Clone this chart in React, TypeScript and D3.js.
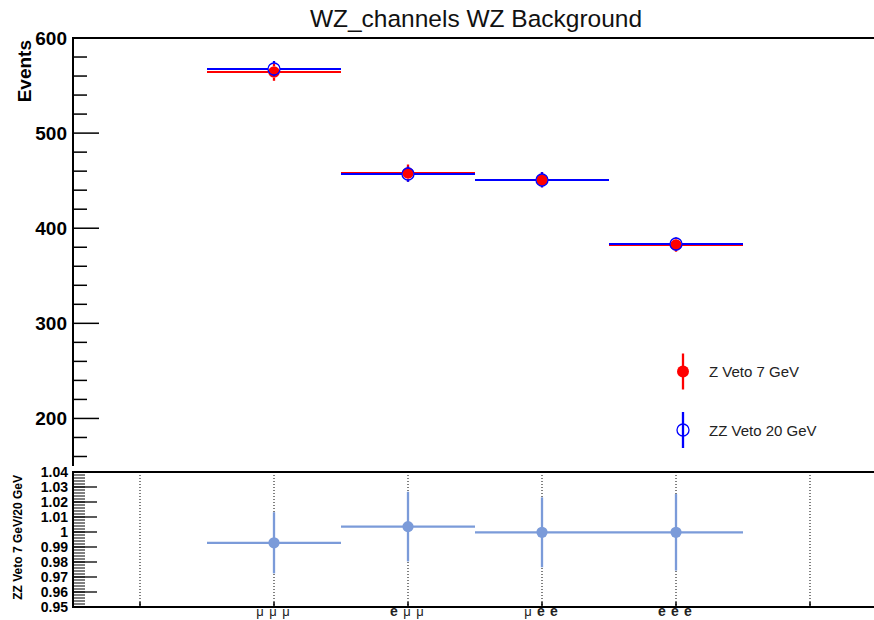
import React, { useEffect, useRef } from "react";
import * as d3 from "d3";

// channel bins (bin centres at 1..4)
const channels = ["μμμ", "eμμ", "μee", "eee"];
const binPos = [1, 2, 3, 4];

// top panel: events per channel
const zVeto7 = [564, 458, 451, 382.3];
const zVeto7Err = [9, 9, 8, 7];
const zzVeto20 = [567.8, 456.8, 451, 383.3];
const zzVeto20Err = [8, 8, 8, 7];

// bottom panel: ratio 7 GeV / 20 GeV
const ratio = [0.9928, 1.0036, 0.9998, 0.9998];
const ratioErr = [0.0204, 0.0232, 0.0233, 0.0255];

const eventTicks = [200, 300, 400, 500, 600];
const ratioTicks = [0.95, 0.96, 0.97, 0.98, 0.99, 1, 1.01, 1.02, 1.03, 1.04];
const gridPos = [0, 1, 2, 3, 4, 5];

const FONT = "'Liberation Sans', Arial, Helvetica, sans-serif";
const RED = "#ff0000";
const BLUE = "#0000ff";
const RATIO_COL = "#7b9bd9";

function App() {
  const svgRef = useRef<SVGSVGElement>(null);

  useEffect(() => {
    const svg = d3.select(svgRef.current);
    svg.selectAll("*").remove();

    const x = d3.scaleLinear().domain([-0.5, 5.5]).range([73, 877]);
    const yTop = d3.scaleLinear().domain([150, 600]).range([466, 38]);
    const yRat = d3.scaleLinear().domain([0.95, 1.04]).range([607, 472]);

    // title
    svg.append("text")
      .attr("x", 476).attr("y", 27)
      .attr("text-anchor", "middle")
      .style("font", `24.5px ${FONT}`)
      .attr("fill", "#111")
      .text("WZ_channels WZ Background");

    // ---------- top panel ----------
    const top = svg.append("g");
    top.append("line")
      .attr("x1", x(-0.5)).attr("x2", x(5.5))
      .attr("y1", yTop(600)).attr("y2", yTop(600))
      .attr("stroke", "#000").attr("stroke-width", 2);
    top.append("line")
      .attr("x1", x(-0.5)).attr("x2", x(-0.5))
      .attr("y1", yTop(600) - 1).attr("y2", yTop(150))
      .attr("stroke", "#000").attr("stroke-width", 2);

    // minor ticks every 20
    top.selectAll(".tminor")
      .data(d3.range(160, 600, 20).filter((v) => v % 100 != 0))
      .join("line")
      .attr("x1", x(-0.5)).attr("x2", x(-0.5) + 14)
      .attr("y1", (d) => yTop(d)).attr("y2", (d) => yTop(d))
      .attr("stroke", "#000").attr("stroke-width", 1.5);
    top.selectAll(".tmajor")
      .data(eventTicks)
      .join("line")
      .attr("x1", x(-0.5)).attr("x2", x(-0.5) + 26)
      .attr("y1", (d) => yTop(d)).attr("y2", (d) => yTop(d))
      .attr("stroke", "#000").attr("stroke-width", 1.5);
    top.selectAll(".tlabel")
      .data(eventTicks)
      .join("text")
      .attr("x", 67).attr("y", (d) => yTop(d) + 7)
      .attr("text-anchor", "end")
      .style("font", `bold 19px ${FONT}`)
      .text((d) => d);

    top.append("text")
      .attr("transform", "translate(31,40) rotate(-90)")
      .attr("text-anchor", "end")
      .style("font", `bold 19px ${FONT}`)
      .text("Events");

    // series: red first, blue over it; error bars stop at the marker edge
    const drawSeries = (vals: number[], errs: number[], col: string, open: boolean) => {
      const g = top.append("g");
      const r = open ? 6 : 5.8;
      binPos.forEach((b, i) => {
        const cy = Math.round(yTop(vals[i]));
        g.append("line")
          .attr("x1", x(b - 0.5)).attr("x2", x(b) - r)
          .attr("y1", cy).attr("y2", cy)
          .attr("stroke", col).attr("stroke-width", 2)
          .attr("shape-rendering", "crispEdges");
        g.append("line")
          .attr("x1", x(b) + r).attr("x2", x(b + 0.5))
          .attr("y1", cy).attr("y2", cy)
          .attr("stroke", col).attr("stroke-width", 2)
          .attr("shape-rendering", "crispEdges");
        g.append("line")
          .attr("x1", x(b)).attr("x2", x(b))
          .attr("y1", yTop(vals[i] + errs[i])).attr("y2", cy - r)
          .attr("stroke", col).attr("stroke-width", 2.3);
        g.append("line")
          .attr("x1", x(b)).attr("x2", x(b))
          .attr("y1", cy + r).attr("y2", yTop(vals[i] - errs[i]))
          .attr("stroke", col).attr("stroke-width", 2.3);
        g.append("circle")
          .attr("cx", x(b)).attr("cy", cy)
          .attr("r", r)
          .attr("fill", open ? "none" : col)
          .attr("stroke", col).attr("stroke-width", open ? 1.3 : 0);
      });
    };
    drawSeries(zVeto7, zVeto7Err, RED, false);
    drawSeries(zzVeto20, zzVeto20Err, BLUE, true);

    // legend
    const legend = [
      { label: "Z Veto 7 GeV", col: RED, open: false, y: 371.5 },
      { label: "ZZ Veto 20 GeV", col: BLUE, open: true, y: 430 },
    ];
    const lg = svg.append("g");
    legend.forEach((l) => {
      lg.append("line")
        .attr("x1", 683).attr("x2", 683)
        .attr("y1", l.y - 18).attr("y2", l.y + 18)
        .attr("stroke", l.col).attr("stroke-width", 2.3);
      lg.append("circle")
        .attr("cx", 683).attr("cy", l.y).attr("r", 6)
        .attr("fill", l.open ? "none" : l.col)
        .attr("stroke", l.col).attr("stroke-width", l.open ? 1.3 : 0);
      lg.append("text")
        .attr("x", 709).attr("y", l.y + 5.5)
        .style("font", `15px ${FONT}`)
        .attr("fill", "#222")
        .text(l.label);
    });

    // ---------- ratio panel ----------
    const bot = svg.append("g");
    bot.selectAll(".grid")
      .data(gridPos)
      .join("line")
      .attr("x1", (d) => x(d)).attr("x2", (d) => x(d))
      .attr("y1", yRat(1.04)).attr("y2", yRat(0.95))
      .attr("stroke", "#000").attr("stroke-width", 1)
      .attr("stroke-dasharray", "1,2");
    bot.selectAll(".xtick")
      .data(gridPos)
      .join("line")
      .attr("x1", (d) => x(d)).attr("x2", (d) => x(d))
      .attr("y1", yRat(0.95)).attr("y2", yRat(0.95) - 5)
      .attr("stroke", "#000").attr("stroke-width", 1.5);

    bot.selectAll(".rminor")
      .data(d3.range(0, 46).map((i) => 0.95 + i * 0.002))
      .join("line")
      .attr("x1", x(-0.5)).attr("x2", x(-0.5) + 12)
      .attr("y1", (d) => yRat(d)).attr("y2", (d) => yRat(d))
      .attr("stroke", "#000").attr("stroke-width", 1);
    bot.selectAll(".rmajor")
      .data(ratioTicks)
      .join("line")
      .attr("x1", x(-0.5)).attr("x2", x(-0.5) + 24)
      .attr("y1", (d) => yRat(d)).attr("y2", (d) => yRat(d))
      .attr("stroke", "#000").attr("stroke-width", 1.3);
    bot.selectAll(".rlabel")
      .data(ratioTicks)
      .join("text")
      .attr("x", 68).attr("y", (d) => Math.max(yRat(d) + 5, 477))
      .attr("text-anchor", "end")
      .style("font", `bold 14px ${FONT}`)
      .text((d) => d3.format("~g")(d));

    bot.append("text")
      .attr("transform", "translate(22,475) rotate(-90)")
      .attr("text-anchor", "end")
      .style("font", `bold 12px ${FONT}`)
      .text("ZZ Veto 7 GeV/20 GeV");

    // frame
    bot.append("line")
      .attr("x1", x(-0.5)).attr("x2", x(5.5))
      .attr("y1", yRat(1.04)).attr("y2", yRat(1.04))
      .attr("stroke", "#000").attr("stroke-width", 2);
    bot.append("line")
      .attr("x1", x(-0.5)).attr("x2", x(5.5))
      .attr("y1", yRat(0.95)).attr("y2", yRat(0.95))
      .attr("stroke", "#000").attr("stroke-width", 2);
    bot.append("line")
      .attr("x1", x(-0.5)).attr("x2", x(-0.5))
      .attr("y1", yRat(1.04) - 1).attr("y2", yRat(0.95) + 1)
      .attr("stroke", "#000").attr("stroke-width", 2);

    binPos.forEach((b, i) => {
      bot.append("line")
        .attr("x1", x(b - 0.5)).attr("x2", x(b + 0.5))
        .attr("y1", yRat(ratio[i])).attr("y2", yRat(ratio[i]))
        .attr("stroke", RATIO_COL).attr("stroke-width", 2.3);
      bot.append("line")
        .attr("x1", x(b)).attr("x2", x(b))
        .attr("y1", yRat(ratio[i] - ratioErr[i])).attr("y2", yRat(ratio[i] + ratioErr[i]))
        .attr("stroke", RATIO_COL).attr("stroke-width", 2.3);
      bot.append("circle")
        .attr("cx", x(b)).attr("cy", yRat(ratio[i]))
        .attr("r", 5.6).attr("fill", RATIO_COL);
    });

    // channel labels, e bold, mu plain
    binPos.forEach((b, i) => {
      const chars = Array.from(channels[i]);
      chars.forEach((c, j) => {
        bot.append("text")
          .attr("x", x(b) - 1 + (j - 1) * 13)
          .attr("y", 616)
          .attr("text-anchor", "middle")
          .style("font", `${c == "e" ? "bold 14px" : "13px"} ${FONT}`)
          .attr("fill", "#222")
          .text(c);
      });
    });
  }, []);

  return (
    <svg ref={svgRef} width={874} height={620}
      style={{ position: "absolute", left: 0, top: 0, background: "#fff" }} />
  );
}

export default App;
